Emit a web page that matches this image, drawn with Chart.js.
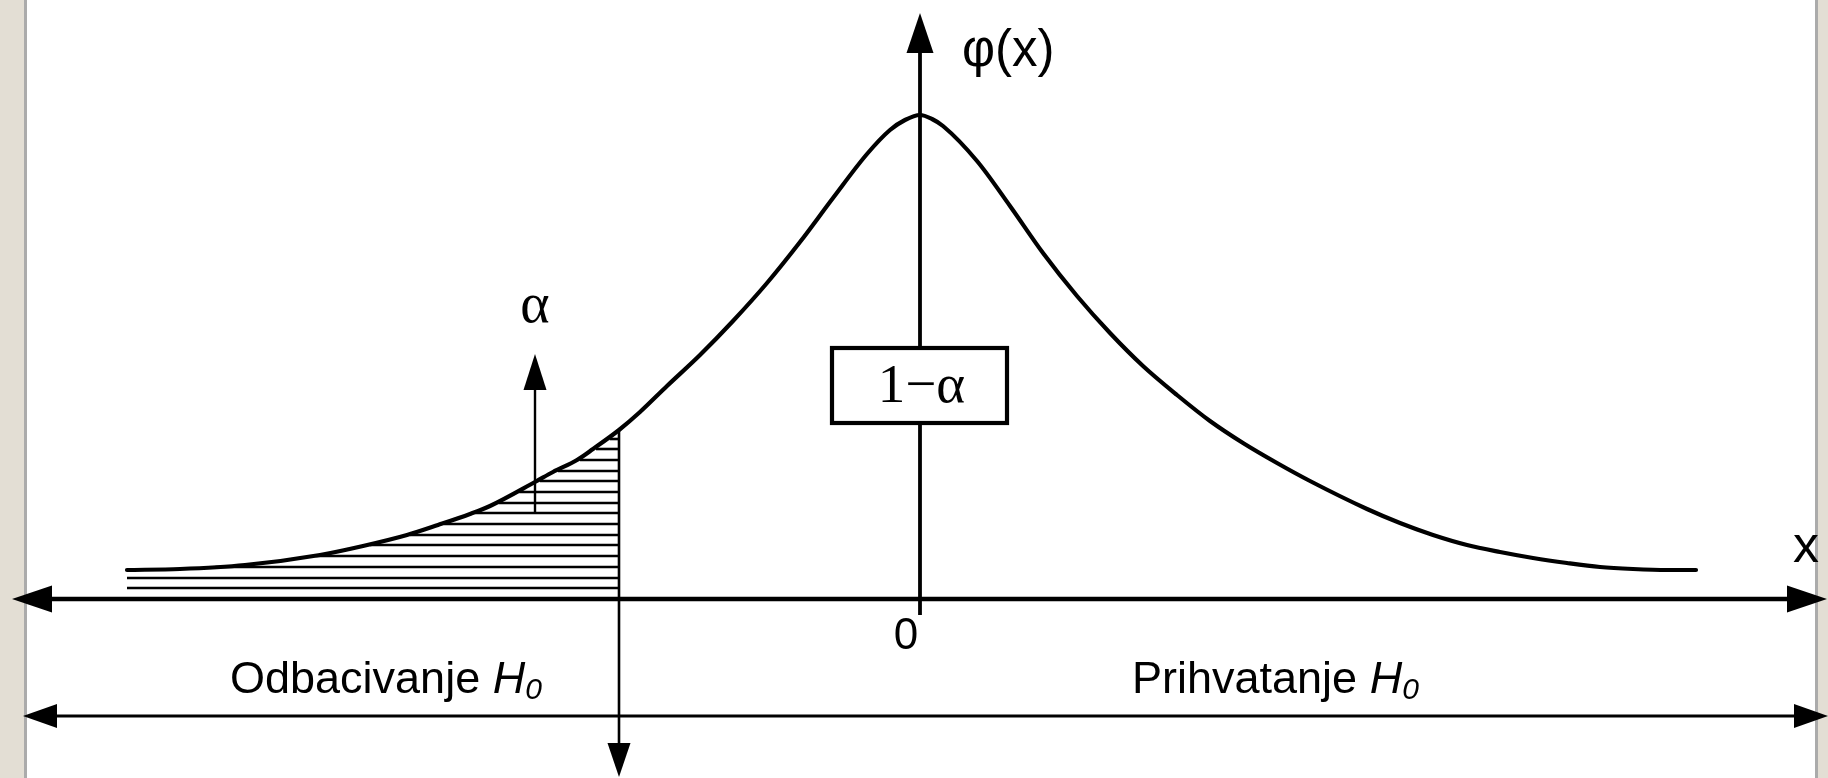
<!DOCTYPE html>
<html><head><meta charset="utf-8">
<style>html,body{margin:0;padding:0;background:#fff;overflow:hidden}
#wrap{position:relative;width:1828px;height:778px}</style>
<script src="https://cdn.jsdelivr.net/npm/chart.js@4/dist/chart.umd.min.js"></script>
</head><body><div id="wrap"><canvas id="c" width="1828" height="778"></canvas></div>
<script>
// ---- data ----
const curveX = [-7.93,-7.4,-6.75,-6.0,-5.57,-5.13,-4.82,-4.5,-4.3,-3.85,-3.67,-3.43,-3.27,-3.01,-2.8,-2.53,-2.2,-1.87,-1.53,-1.2,-0.87,-0.53,-0.3,-0.15,0,0.12,0.23,0.57,0.9,1.23,1.57,1.9,2.23,2.57,2.9,3.23,3.57,3.9,4.47,4.8,5.13,5.47,5.8,6.13,6.47,6.8,7.13,7.47,7.76];
const curveY = [0.29,0.30,0.34,0.44,0.53,0.64,0.74,0.85,0.93,1.17,1.27,1.39,1.50,1.69,1.87,2.13,2.44,2.78,3.16,3.57,4.01,4.45,4.69,4.79,4.84,4.80,4.73,4.38,3.93,3.46,3.03,2.66,2.33,2.04,1.78,1.56,1.36,1.18,0.90,0.76,0.64,0.54,0.47,0.41,0.36,0.32,0.30,0.29,0.29];
const hatchLevels = [0.11,0.21,0.32,0.43,0.54,0.64,0.75,0.86,0.96,1.07,1.18,1.28,1.39,1.50,1.60];
const criticalX = -3.01;
const alphaArrowX = -3.85;
const alphaArrowFromY = 0.86;
const alphaArrowToY = 2.45;
const xAxisRange = [-9.08, 9.07];
const yAxisRange = [-0.16, 5.86];
const regionArrowY = -1.17;
const regionArrowRange = [-8.97, 9.08];
const boxRangeX = [-0.88, 0.87];
const boxRangeY = [1.76, 2.51];
const labels = {
  yAxis: 'φ(x)', xAxis: 'x', origin: '0', box: '1−α', tail: 'α',
  reject: 'Odbacivanje ', accept: 'Prihvatanje ', hyp: 'H', hypSub: '0'
};

function curveAtX(x){
  for(let i=1;i<curveX.length;i++){
    if(curveX[i]>=x){const t=(x-curveX[i-1])/(curveX[i]-curveX[i-1]);return curveY[i-1]+t*(curveY[i]-curveY[i-1]);}
  }
  return curveY[curveY.length-1];
}
function leftCrossing(level){
  if(level<=curveY[0]) return curveX[0];
  for(let i=1;i<curveX.length;i++){
    if(curveY[i]>=level){const t=(level-curveY[i-1])/(curveY[i]-curveY[i-1]);return curveX[i-1]+t*(curveX[i]-curveX[i-1]);}
  }
  return curveX[0];
}

const SANS='"Liberation Sans", Arial, sans-serif';
const SERIF='"Liberation Serif", "Times New Roman", serif';

function arrowHead(ctx,tx,ty,dx,dy,len,w){
  const bx=tx-dx*len, by=ty-dy*len, nx=-dy, ny=dx;
  ctx.beginPath();
  ctx.moveTo(tx,ty);
  ctx.lineTo(bx+nx*w/2,by+ny*w/2);
  ctx.lineTo(bx-nx*w/2,by-ny*w/2);
  ctx.closePath();ctx.fill();
}
function line(ctx,x1,y1,x2,y2,w){
  ctx.lineWidth=w;ctx.beginPath();ctx.moveTo(x1,y1);ctx.lineTo(x2,y2);ctx.stroke();
}

const diagram = {
  id:'diagram',
  beforeDraw(chart){
    const ctx=chart.ctx, W=chart.width, H=chart.height;
    ctx.save();
    ctx.fillStyle='#fff';ctx.fillRect(0,0,W,H);
    ctx.fillStyle='#E3DED4';ctx.fillRect(0,0,24,H);ctx.fillRect(1818,0,W-1818,H);
    ctx.fillStyle='#ABABAB';ctx.fillRect(24,0,3,H);ctx.fillRect(1815,0,3,H);
    ctx.restore();
  },
  beforeDatasetsDraw(chart){
    const ctx=chart.ctx, xs=chart.scales.x, ys=chart.scales.y;
    const px=v=>xs.getPixelForValue(v), py=v=>ys.getPixelForValue(v);
    ctx.save();
    ctx.strokeStyle='#000';ctx.fillStyle='#000';ctx.lineCap='butt';
    // hatching
    const cx=px(criticalX);
    hatchLevels.forEach(l=>{
      const s=px(leftCrossing(l));
      const y=py(l);
      line(ctx,s+(l>curveY[0]?3:0),y,cx,y,2.6);
    });
    // critical line with downward arrow
    const critTop=py(curveAtX(criticalX)), bottom=py(ys.min);
    line(ctx,cx,critTop,cx,bottom-30,2.6);
    arrowHead(ctx,cx,bottom-1,0,1,34,23);
    // x axis
    const ay=py(0), xl=px(xAxisRange[0]), xr=px(xAxisRange[1]);
    line(ctx,xl+38,ay,xr-38,ay,4.4);
    arrowHead(ctx,xl,ay,-1,0,40,27);
    arrowHead(ctx,xr,ay,1,0,40,27);
    // y axis
    const ax=px(0), yb=py(yAxisRange[0]), yt=py(yAxisRange[1]);
    line(ctx,ax,yb,ax,yt+38,3.8);
    arrowHead(ctx,ax,yt,0,-1,40,27);
    // alpha arrow
    const aax=px(alphaArrowX), a1=py(alphaArrowFromY), a2=py(alphaArrowToY);
    line(ctx,aax,a1,aax,a2+30,2.4);
    arrowHead(ctx,aax,a2,0,-1,36,23);
    // region double arrow
    const ry=py(regionArrowY), rl=px(regionArrowRange[0]), rr=px(regionArrowRange[1]);
    line(ctx,rl+30,ry,rr-30,ry,3.2);
    arrowHead(ctx,rl,ry,-1,0,34,24);
    arrowHead(ctx,rr,ry,1,0,34,24);
    ctx.restore();
  },
  afterDatasetsDraw(chart){
    const ctx=chart.ctx, xs=chart.scales.x, ys=chart.scales.y;
    const px=v=>xs.getPixelForValue(v), py=v=>ys.getPixelForValue(v);
    ctx.save();
    ctx.fillStyle='#000';ctx.strokeStyle='#000';
    // box
    const bx1=px(boxRangeX[0]), bx2=px(boxRangeX[1]), by1=py(boxRangeY[1]), by2=py(boxRangeY[0]);
    ctx.fillStyle='#fff';ctx.fillRect(bx1,by1,bx2-bx1,by2-by1);
    ctx.lineWidth=4.2;ctx.strokeRect(bx1,by1,bx2-bx1,by2-by1);
    ctx.fillStyle='#000';
    ctx.font='55px '+SERIF;ctx.textAlign='center';ctx.textBaseline='alphabetic';
    ctx.fillText(labels.box,(bx1+bx2)/2+2,py(1.97));
    // alpha label
    ctx.font='56px '+SERIF;
    ctx.fillText(labels.tail,px(alphaArrowX),py(2.77));
    // phi(x)
    ctx.font='51px '+SANS;ctx.textAlign='left';
    ctx.fillText(labels.yAxis,px(0.42),py(5.33));
    // x label
    ctx.textAlign='center';
    ctx.font='52px '+SANS;
    ctx.fillText(labels.xAxis,px(8.86),py(0.37));
    // origin
    ctx.font='44px '+SANS;
    ctx.fillText(labels.origin,px(-0.14),py(-0.5));
    // region labels
    function regionLabel(text,x){
      ctx.textAlign='left';
      ctx.font='45px '+SANS;
      let cx=px(x); const by=py(-0.94);
      ctx.fillText(text,cx,by); cx+=ctx.measureText(text).width;
      ctx.font='italic 45px '+SANS;
      ctx.fillText(labels.hyp,cx,by); cx+=ctx.measureText(labels.hyp).width;
      ctx.font='italic 30px '+SANS;
      ctx.fillText(labels.hypSub,cx,by+6);
    }
    regionLabel(labels.reject,-6.9);
    regionLabel(labels.accept,2.12);
    ctx.restore();
  }
};

new Chart(document.getElementById('c'),{
  type:'scatter',
  data:{datasets:[{
    data:curveX.map((x,i)=>({x:x,y:curveY[i]})),
    showLine:true,borderColor:'#000',borderWidth:4.2,pointRadius:0,
    cubicInterpolationMode:'monotone',borderCapStyle:'round',borderJoinStyle:'round',fill:false
  }]},
  options:{
    responsive:false,animation:false,devicePixelRatio:1,
    layout:{padding:0},
    plugins:{legend:{display:false},tooltip:{enabled:false},title:{display:false}},
    scales:{
      x:{type:'linear',min:-9.2,max:9.08,display:false},
      y:{type:'linear',min:-1.79,max:5.99,display:false}
    }
  },
  plugins:[diagram]
});
</script></body></html>
